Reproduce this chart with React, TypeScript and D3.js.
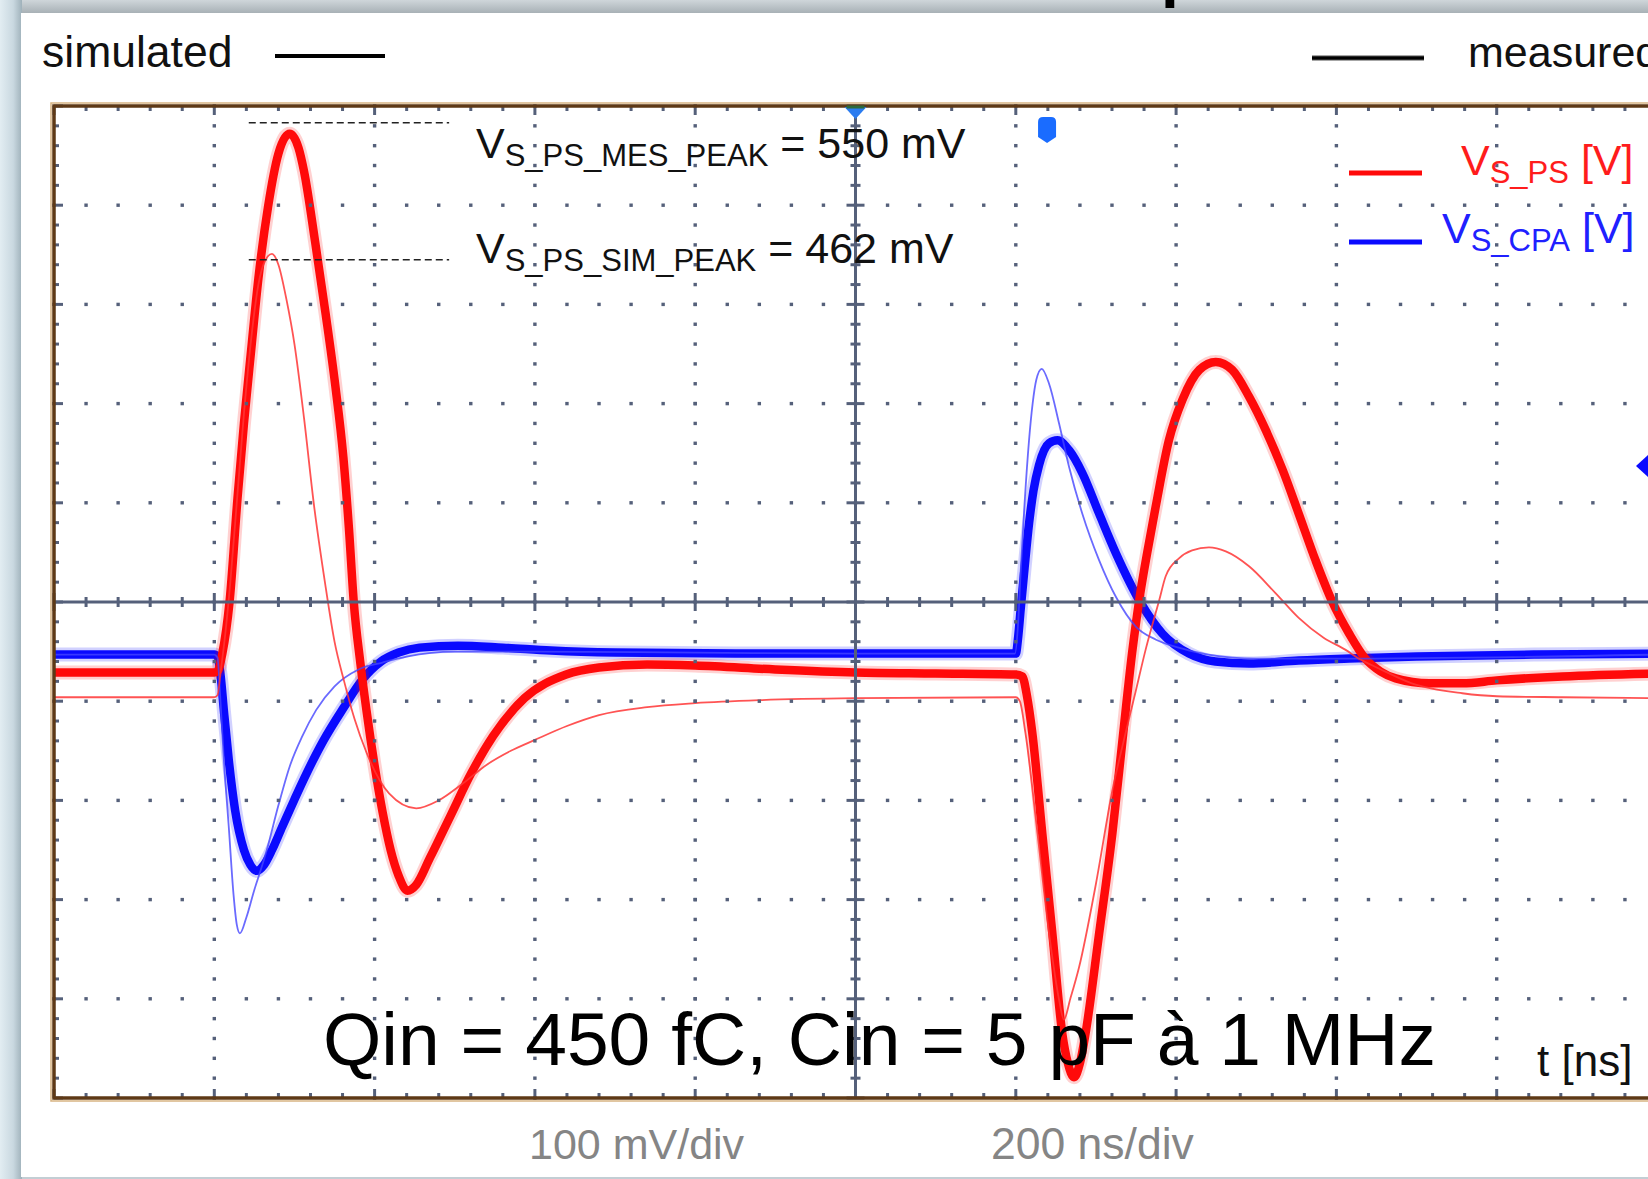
import React from 'react';
import * as d3 from 'd3';

// time in ns, voltage in V  (scope: 200 ns/div, 100 mV/div)
const mesPsTime = [0, 100, 200, 204, 210, 219, 229, 237, 246, 255, 267, 280, 294, 305, 312, 326, 339, 351, 361, 368, 374, 382, 390, 400, 410, 420, 430, 441, 452, 469, 495, 521, 548, 587, 639, 680, 740, 800, 900, 1000, 1100, 1200, 1208, 1214, 1220.6, 1233, 1245.6, 1258, 1265, 1272.6, 1280, 1287, 1304, 1320.5, 1333, 1345, 1354, 1364, 1374.5, 1391, 1408, 1429, 1449.5, 1470, 1491, 1512, 1533, 1553, 1574, 1595, 1616, 1636, 1655, 1674, 1716, 1757, 1800, 1882, 2000];
const mesPsVolt = [-0.071, -0.071, -0.071, -0.07, -0.052, 0.0, 0.105, 0.18, 0.254, 0.326, 0.398, 0.452, 0.472, 0.458, 0.434, 0.362, 0.29, 0.218, 0.146, 0.074, 0.0, -0.06, -0.11, -0.165, -0.212, -0.25, -0.276, -0.291, -0.285, -0.258, -0.215, -0.172, -0.135, -0.097, -0.073, -0.066, -0.063, -0.064, -0.068, -0.071, -0.072, -0.073, -0.075, -0.095, -0.132, -0.233, -0.334, -0.435, -0.465, -0.479, -0.465, -0.435, -0.334, -0.233, -0.14, -0.052, 0.002, 0.05, 0.096, 0.163, 0.204, 0.234, 0.242, 0.234, 0.207, 0.173, 0.133, 0.089, 0.042, 0.0, -0.032, -0.057, -0.07, -0.077, -0.082, -0.082, -0.079, -0.075, -0.072];

const mesCpaTime = [0, 100, 200, 204, 208, 212, 218, 226, 237, 245, 253, 262, 272, 285, 300, 315, 336, 361, 385, 408, 430, 456, 504, 560, 620, 700, 850, 1000, 1100, 1200, 1203, 1206, 1211, 1216.5, 1222, 1229, 1241.5, 1252, 1266.5, 1283, 1304, 1325, 1356, 1383, 1416, 1449, 1491, 1553, 1616, 1700, 1850, 2000];
const mesCpaVolt = [-0.053, -0.053, -0.053, -0.055, -0.075, -0.11, -0.159, -0.21, -0.25, -0.265, -0.271, -0.265, -0.25, -0.226, -0.199, -0.173, -0.14, -0.107, -0.078, -0.06, -0.051, -0.046, -0.044, -0.046, -0.049, -0.051, -0.052, -0.052, -0.052, -0.052, -0.035, -0.008, 0.035, 0.079, 0.112, 0.138, 0.16, 0.163, 0.153, 0.13, 0.089, 0.049, -0.001, -0.032, -0.052, -0.06, -0.062, -0.059, -0.057, -0.055, -0.053, -0.052];

const simPsTime = [0, 100, 200, 204, 208, 214, 220, 229, 237, 246, 255, 264, 272, 280, 290, 300, 312, 324, 338, 350, 362, 375, 390, 418, 452, 480, 510, 540, 570, 600, 640, 680, 740, 800, 880, 1000, 1200, 1205, 1212, 1227, 1241.5, 1254, 1260, 1268, 1279, 1300, 1320.5, 1337, 1349, 1362, 1379, 1387, 1403.6, 1420, 1441, 1462, 1491, 1524, 1553, 1584, 1611, 1630, 1653, 1694, 1757, 1800, 1882, 2000];
const simPsVolt = [-0.096, -0.096, -0.096, -0.094, -0.07, -0.03, 0.02, 0.11, 0.19, 0.265, 0.32, 0.345, 0.351, 0.34, 0.305, 0.26, 0.185, 0.1, 0.02, -0.04, -0.08, -0.118, -0.152, -0.193, -0.208, -0.2, -0.183, -0.164, -0.15, -0.139, -0.125, -0.114, -0.106, -0.102, -0.099, -0.097, -0.096, -0.1, -0.132, -0.233, -0.334, -0.401, -0.421, -0.4, -0.368, -0.284, -0.19, -0.132, -0.092, -0.048, 0.002, 0.026, 0.044, 0.052, 0.055, 0.051, 0.036, 0.009, -0.016, -0.036, -0.048, -0.058, -0.067, -0.082, -0.092, -0.095, -0.096, -0.097];

const simCpaTime = [0, 200, 204, 207, 212, 218, 224, 228, 232, 240, 250, 258, 265.5, 280, 294, 310, 327, 350, 380, 410, 440, 500, 600, 800, 1000, 1199, 1203, 1206, 1211, 1216.5, 1221, 1225.6, 1232.3, 1241.5, 1254, 1266.5, 1283, 1304, 1325, 1350, 1375, 1408, 1440, 1500, 1600, 2000];
const simCpaVolt = [-0.053, -0.053, -0.056, -0.09, -0.16, -0.226, -0.295, -0.325, -0.334, -0.318, -0.29, -0.27, -0.25, -0.205, -0.166, -0.135, -0.109, -0.085, -0.068, -0.061, -0.055, -0.05, -0.05, -0.051, -0.052, -0.052, -0.02, 0.029, 0.1, 0.163, 0.2, 0.224, 0.235, 0.22, 0.18, 0.136, 0.089, 0.042, 0.005, -0.025, -0.038, -0.047, -0.053, -0.057, -0.057, -0.053];

// peak guide levels (V) and their time span (ns)
const peakGuideMes = 0.483;
const peakGuideSim = 0.345;
const peakGuideSpan = [243, 493];
const triggerTime = 1239;
const levelMarkVolt = 0.137;

const W = 1648;
const H = 1179;
const left = 54;
const top = 106;
const bottom = 1098;
const xDiv = 160.3;
const right = left + 10 * xDiv;

const x = d3.scaleLinear().domain([0, 2000]).range([left, right]);
const y = d3.scaleLinear().domain([-0.5, 0.5]).range([bottom, top]);

const majorT = d3.range(0, 2001, 200);
const minorT = d3.range(0, 2001, 40);
const majorV = d3.range(-5, 6).map(k => k / 10);
const minorV = d3.range(-25, 26).map(k => k / 50);

const line = d3.line<number[]>().x(d => x(d[0])).y(d => y(d[1])).curve(d3.curveMonotoneX);
const zip = (t: number[], v: number[]) => t.map((tt, i) => [tt, v[i]]);

const gridCol = '#55607a';
const font = '"Liberation Sans", Arial, sans-serif';

const App = () => {
  const x0 = x(1000);
  const y0 = y(0);
  const mesPs = line(zip(mesPsTime, mesPsVolt)) || '';
  const mesCpa = line(zip(mesCpaTime, mesCpaVolt)) || '';
  const simPs = line(zip(simPsTime, simPsVolt)) || '';
  const simCpa = line(zip(simCpaTime, simCpaVolt)) || '';
  const mx = x(triggerTime);
  const ly = y(levelMarkVolt);

  return (
    <div>
      <style>{`body{margin:0}`}</style>
      <svg width={W} height={H} style={{ display: 'block' }} fontFamily={font}>
        <defs>
          <linearGradient id="leftStrip" x1="0" x2="1" y1="0" y2="0">
            <stop offset="0" stopColor="#e2edf2" />
            <stop offset="0.6" stopColor="#c9d8e0" />
            <stop offset="1" stopColor="#9fb1ba" />
          </linearGradient>
          <linearGradient id="topStrip" x1="0" x2="0" y1="0" y2="1">
            <stop offset="0" stopColor="#cfd6da" />
            <stop offset="1" stopColor="#a5aeb3" />
          </linearGradient>
          <clipPath id="plotClip">
            <rect x={left} y={top} width={right - left} height={bottom - top} />
          </clipPath>
        </defs>

        {/* page background */}
        <rect x={0} y={0} width={W} height={H} fill="#c3ced4" />
        <rect x={0} y={0} width={W} height={14} fill="url(#topStrip)" />
        <text x={1161} y={-5} fontSize={64} fontWeight="bold" fill="#000">p</text>
        <rect x={0} y={0} width={22} height={H} fill="url(#leftStrip)" />
        <rect x={21} y={13} width={W - 21} height={1164} fill="#ffffff" />

        {/* legend */}
        <text x={42} y={67} fontSize={44.5} fill="#111">simulated</text>
        <line x1={275} x2={385} y1={56} y2={56} stroke="#000" strokeWidth={4} />
        <line x1={1312} x2={1424} y1={58} y2={58} stroke="#000" strokeWidth={6} strokeOpacity={0.35} />
        <line x1={1312} x2={1424} y1={58} y2={58} stroke="#000" strokeWidth={3.5} />
        <text x={1468} y={67} fontSize={43} fill="#111">measured</text>

        {/* traces */}
        <g clipPath="url(#plotClip)" fill="none" strokeLinejoin="round" strokeLinecap="round">
          <path d={mesCpa} stroke="#0000ff" strokeWidth={14} strokeOpacity={0.18} />
          <path d={mesCpa} stroke="#0a0aff" strokeWidth={8.5} />
          <path d={mesPs} stroke="#ff0000" strokeWidth={14} strokeOpacity={0.18} />
          <path d={mesPs} stroke="#ff0a0a" strokeWidth={8.5} />
          <path d={simCpa} stroke="#4545ff" strokeWidth={1.8} strokeOpacity={0.8} />
          <path d={simPs} stroke="#ff3535" strokeWidth={1.8} strokeOpacity={0.85} />
        </g>

        {/* dotted grid */}
        <g fill={gridCol}>
          {majorT.filter(t => t > 0 && t < 2000 && t !== 1000).map(t =>
            minorV.map(v => <rect key={`v${t}_${v}`} x={x(t) - 1.7} y={y(v) - 1.7} width={3.4} height={3.4} />)
          )}
          {majorV.filter(v => Math.abs(v) < 0.45 && Math.abs(v) > 0.01).map(v =>
            minorT.map(t => <rect key={`h${v}_${t}`} x={x(t) - 1.7} y={y(v) - 1.7} width={3.4} height={3.4} />)
          )}
        </g>

        {/* edge ticks */}
        <g stroke={gridCol} strokeWidth={3}>
          {minorT.map(t => {
            const len = majorT.includes(t) ? 9 : 5;
            return (
              <g key={`et${t}`}>
                <line x1={x(t)} x2={x(t)} y1={top} y2={top + len} />
                <line x1={x(t)} x2={x(t)} y1={bottom} y2={bottom - len} />
              </g>
            );
          })}
          {minorV.map((v, i) => (
            <line key={`el${i}`} x1={left} x2={left + (i % 5 === 0 ? 9 : 5)} y1={y(v)} y2={y(v)} />
          ))}
        </g>

        {/* centre axes */}
        <g stroke={gridCol}>
          <line x1={left} x2={right} y1={y0} y2={y0} strokeWidth={3} />
          <line x1={x0} x2={x0} y1={top} y2={bottom} strokeWidth={3} />
          {minorT.map((t, i) => {
            const len = i % 5 === 0 ? 9 : 5;
            return <line key={`ct${t}`} x1={x(t)} x2={x(t)} y1={y0 - len} y2={y0 + len} strokeWidth={3} />;
          })}
          {minorV.map((v, i) => {
            const len = i % 5 === 0 ? 9 : 5;
            return <line key={`cv${i}`} x1={x0 - len} x2={x0 + len} y1={y(v)} y2={y(v)} strokeWidth={3} />;
          })}
        </g>

        {/* frame */}
        <rect x={left - 3} y={top - 3} width={right - left + 6} height={bottom - top + 6} fill="none" stroke="#d8b482" strokeWidth={1.5} />
        <rect x={left} y={top} width={right - left} height={bottom - top} fill="none" stroke="#5e3916" strokeWidth={3.5} />

        {/* scope markers */}
        <polygon points={`${x0 - 11},${top + 1} ${x0 + 11},${top + 1} ${x0},${top + 13}`} fill="#2b7cf0" />
        <line x1={x0 - 9} x2={x0 + 9} y1={top + 1} y2={top + 1} stroke="#2d6a3c" strokeWidth={3} />
        <path d={`M${mx - 9},${top + 16} Q${mx - 9},${top + 11} ${mx - 4},${top + 11} L${mx + 4},${top + 11} Q${mx + 9},${top + 11} ${mx + 9},${top + 16} L${mx + 9},${top + 31} L${mx},${top + 37} L${mx - 9},${top + 31} Z`} fill="#1a6cff" />
        <polygon points={`${W - 12},${ly} ${W},${ly - 11} ${W + 12},${ly} ${W},${ly + 11}`} fill="#0a0aff" />

        {/* peak guides */}
        <g stroke="#222" strokeWidth={1.5} strokeDasharray="7 4">
          <line x1={x(peakGuideSpan[0])} x2={x(peakGuideSpan[1])} y1={y(peakGuideMes)} y2={y(peakGuideMes)} />
          <line x1={x(peakGuideSpan[0])} x2={x(peakGuideSpan[1])} y1={y(peakGuideSim)} y2={y(peakGuideSim)} />
        </g>
        <text x={476} y={158} fontSize={43} fill="#111">
          V<tspan fontSize={31} dy={8}>S_PS_MES_PEAK</tspan><tspan dy={-8}> = 550 mV</tspan>
        </text>
        <text x={476} y={263} fontSize={43} fill="#111">
          V<tspan fontSize={31} dy={8}>S_PS_SIM_PEAK</tspan><tspan dy={-8}> = 462 mV</tspan>
        </text>

        {/* channel legend */}
        <line x1={1349} x2={1422} y1={173} y2={173} stroke="#ff0a0a" strokeWidth={5} />
        <text x={1461} y={175} fontSize={43} fill="#ff1c1c">
          V<tspan fontSize={31} dy={8}>S_PS</tspan><tspan dy={-8}> [V]</tspan>
        </text>
        <line x1={1349} x2={1422} y1={242} y2={242} stroke="#0a0aff" strokeWidth={5} />
        <text x={1442} y={243} fontSize={43} fill="#2020ff">
          V<tspan fontSize={31} dy={8}>S_CPA</tspan><tspan dy={-8}> [V]</tspan>
        </text>

        {/* captions */}
        <text x={323} y={1065} fontSize={75} fill="#000">Qin = 450 fC, Cin = 5 pF à 1 MHz</text>
        <text x={1537} y={1076} fontSize={44} fill="#111">t [ns]</text>
        <text x={529} y={1159} fontSize={43} fill="#858585">100 mV/div</text>
        <text x={991} y={1159} fontSize={44.5} fill="#858585">200 ns/div</text>
      </svg>
    </div>
  );
};

export default App;
